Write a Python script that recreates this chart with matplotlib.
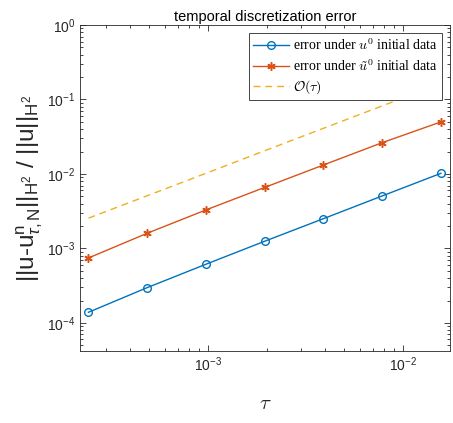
import matplotlib
matplotlib.use("Agg")
import matplotlib.pyplot as plt
from matplotlib.font_manager import FontProperties
import numpy as np

plt.rcParams['font.family'] = ['Liberation Sans', 'DejaVu Sans']
plt.rcParams['mathtext.fontset'] = 'custom'
plt.rcParams['mathtext.rm'] = 'Liberation Sans'
plt.rcParams['mathtext.it'] = 'Liberation Sans:italic'

# data
tau = [1/4096, 1/2048, 1/1024, 1/512, 1/256, 1/128, 1/64]
err_u0 = [1.39e-4, 2.98e-4, 6.14e-4, 1.25e-3, 2.51e-3, 5.07e-3, 1.02e-2]
err_ut0 = [7.45e-4, 1.60e-3, 3.29e-3, 6.60e-3, 1.32e-2, 2.63e-2, 5.0e-2]
ref_order1 = [2.55e-3, 5.1e-3, 1.02e-2, 2.05e-2, 4.1e-2, 8.2e-2, 0.164]

blue = '#0072BD'
orange = '#D95319'
yellow = '#EDB120'

fig = plt.figure(figsize=(4.53, 4.23), dpi=100)
ax = fig.add_axes([0.1766, 0.1702, 0.8168, 0.7707])

ax.loglog(tau, err_u0, '-o', color=blue, lw=1, ms=5.5, mfc='none', mew=1,
          label=r'error under $u^0$ initial data')
ax.loglog(tau, err_ut0, '-', color=orange, lw=1, marker=(6, 2, 0), ms=6, mew=1.1,
          label=r'error under $\tilde{u}^0$ initial data')
ax.loglog(tau, ref_order1, '--', color=yellow, lw=1, dashes=(5, 3.5),
          label=r'$\mathcal{O}(\tau)$')

ax.set_xlim(2.21e-4, 1.74e-2)
ax.set_ylim(4.2e-5, 1)
ax.set_xticks([1e-3, 1e-2])
ax.set_yticks([1e-4, 1e-3, 1e-2, 1e-1, 1e0])

ax.tick_params(which='both', direction='in', top=True, right=True,
               colors='#262626', labelsize=10, width=0.6)
ax.tick_params(which='major', length=4)
ax.tick_params(which='minor', length=2)
for s in ax.spines.values():
    s.set_color('#262626')
    s.set_linewidth(0.6)

ax.set_title('temporal discretization error', fontsize=10.5, color='black', pad=3)
ax.set_ylabel(r'$||$u-u$^{\mathrm{n}}_{\tau,\mathrm{N}}||_{\mathrm{H}^2}$ / $||$u$||_{\mathrm{H}^2}$',
              fontsize=17.5, color='#262626', labelpad=1)
ax.set_xlabel(r'$\tau$', fontsize=15, color='#262626', labelpad=14,
              math_fontfamily='cm')

leg_font = FontProperties(family='Liberation Serif', size=10, math_fontfamily='cm')
leg = ax.legend(loc='upper right', prop=leg_font, fancybox=False, framealpha=1,
                edgecolor='#262626', borderpad=0.3, labelspacing=0.35,
                handlelength=2.6, handletextpad=0.3, borderaxespad=0.6)
leg.get_frame().set_linewidth(0.6)

plt.savefig('out.png', dpi=100)
